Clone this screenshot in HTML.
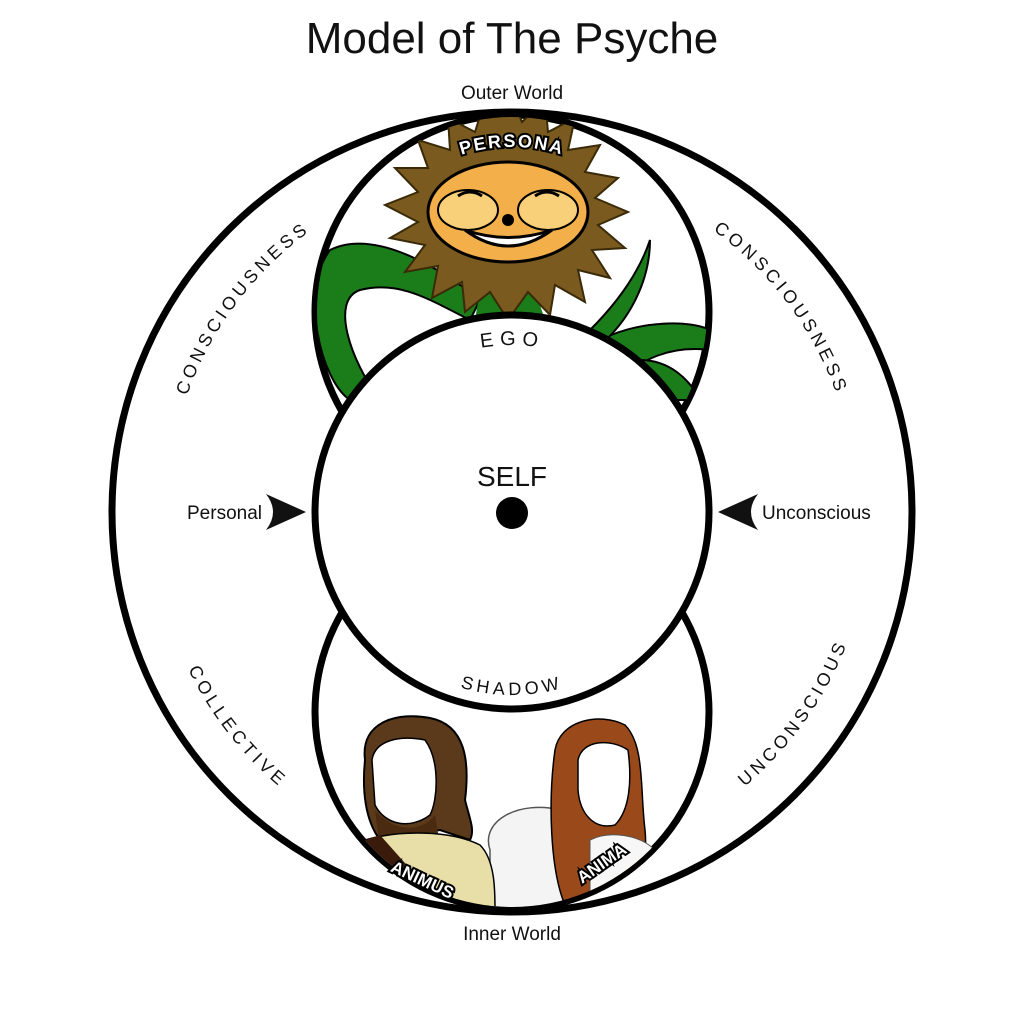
<!DOCTYPE html>
<html><head><meta charset="utf-8"><style>
html,body{margin:0;padding:0;background:#fff;}
svg{display:block;}
</style></head><body>
<svg width="1024" height="1024" viewBox="0 0 1024 1024" xmlns="http://www.w3.org/2000/svg" font-family="Liberation Sans, DejaVu Sans, sans-serif">
<defs>
<clipPath id="ct"><circle cx="512" cy="312" r="195"/></clipPath>
<clipPath id="cb"><circle cx="512" cy="712" r="195"/></clipPath>
<path id="pl" d="M 167.5 530 A 347 347 0 0 1 434.4 174"/>
<path id="pr" d="M 589.6 174 A 347 347 0 0 1 856.5 530"/>
<path id="pbl" d="M 152.2 499.4 A 360 360 0 0 0 437.2 864.1"/>
<path id="pbr" d="M 602.1 860.5 A 360 360 0 0 0 870.9 483.7"/>
<path id="pego" d="M 404.7 384.1 A 167 167 0 0 1 619.3 384.1"/>
<path id="psh" d="M 394.4 652.2 A 183 183 0 0 0 629.6 652.2"/>
<path id="pper" d="M 405.9 185.6 A 165 165 0 0 1 618.1 185.6"/>
</defs>
<rect width="1024" height="1024" fill="#fff"/>
<text x="512" y="53" font-size="44" text-anchor="middle" fill="#111">Model of The Psyche</text>
<text x="512" y="99" font-size="19" text-anchor="middle" fill="#111">Outer World</text>
<text x="512" y="940" font-size="19" text-anchor="middle" fill="#111">Inner World</text>

<circle cx="512" cy="512" r="400" fill="#fff" stroke="#000" stroke-width="7"/>
<circle cx="512" cy="312" r="197" fill="#fff" stroke="#000" stroke-width="7"/>
<circle cx="512" cy="712" r="197" fill="#fff" stroke="#000" stroke-width="7"/>

<!-- persona image -->
<g clip-path="url(#ct)">
<path d="M330 250 C 300 290 320 380 350 400 L 380 400 C 350 360 330 300 360 290 C 400 280 430 300 470 320 L 480 300 C 430 260 370 230 330 250 Z" fill="#1a7d1a" stroke="#000" stroke-width="2"/>
<path d="M600 340 C 640 320 690 320 710 330 L 710 350 C 670 345 640 360 620 380 Z" fill="#1a7d1a" stroke="#000" stroke-width="2"/>
<path d="M590 330 C 620 300 640 270 650 240 C 650 280 630 320 600 345 Z" fill="#1a7d1a" stroke="#000" stroke-width="2"/>
<path d="M640 360 C 670 360 690 380 700 400 L 660 400 Z" fill="#1a7d1a" stroke="#000" stroke-width="2"/>
<path d="M480 290 L 475 320 L 545 320 L 535 290 Z" fill="#1a7d1a"/>
<polygon points="508,90 522,122 545,100 548,132 575,118 568,150 600,145 585,172 618,178 595,198 628,212 598,225 625,248 592,250 610,278 578,270 585,302 555,285 550,315 528,292 508,320 490,292 465,312 462,282 432,298 438,266 405,272 425,245 390,238 418,222 385,205 418,192 395,168 428,168 418,140 450,150 448,118 475,132 485,100" fill="#7a5a1e" stroke="#3a2a08" stroke-width="2"/>
<ellipse cx="508" cy="212" rx="80" ry="50" fill="#f3b04a" stroke="#000" stroke-width="3"/>
<ellipse cx="468" cy="210" rx="30" ry="20" fill="#f8d07a" stroke="#000" stroke-width="2"/>
<ellipse cx="548" cy="210" rx="30" ry="20" fill="#f8d07a" stroke="#000" stroke-width="2"/>
<path d="M458 196 q12 -8 24 0" stroke="#000" stroke-width="3" fill="none"/>
<path d="M535 196 q12 -8 24 0" stroke="#000" stroke-width="3" fill="none"/>
<path d="M465 230 Q 508 262 552 230 Q 508 245 465 230 Z" fill="#fff" stroke="#000" stroke-width="3"/>
<circle cx="508" cy="220" r="6" fill="#000"/>
</g>

<!-- anima/animus image -->
<g clip-path="url(#cb)">
<path d="M490 850 C 480 820 520 800 560 810 C 580 840 570 880 560 910 L 490 910 Z" fill="#f4f4f4" stroke="#555" stroke-width="1.5"/>
<path d="M365 760 C 360 720 400 712 430 718 C 465 725 470 760 465 800 C 470 820 475 830 470 840 L 440 830 L 380 840 C 365 820 362 790 365 760 Z" fill="#5a3a1a" stroke="#000" stroke-width="2"/>
<path d="M372 760 C 375 740 400 735 425 740 C 440 760 438 800 430 815 C 410 830 385 825 375 805 Z" fill="#fff" stroke="#000" stroke-width="1.5"/>
<path d="M375 810 C 390 830 420 835 435 815 L 440 845 L 380 850 Z" fill="#4a2a10"/>
<path d="M365 840 C 400 830 450 830 480 845 C 495 860 495 890 495 910 L 370 910 Z" fill="#e8dfa8" stroke="#000" stroke-width="1.5"/>
<path d="M365 840 L 380 835 L 420 880 L 400 910 L 365 900 Z" fill="#3a1a0a"/>
<path d="M555 750 C 560 720 600 712 625 725 C 645 745 640 790 645 830 C 648 860 640 880 630 900 L 565 905 C 550 870 548 800 555 750 Z" fill="#9a4a1a" stroke="#000" stroke-width="1.5"/>
<path d="M578 760 C 582 740 610 738 628 750 C 632 780 630 810 615 825 C 595 830 580 815 578 790 Z" fill="#fff" stroke="#000" stroke-width="1.5"/>
<path d="M590 840 C 610 830 640 835 655 850 L 660 910 L 590 910 Z" fill="#f7f7f7" stroke="#555" stroke-width="1"/>
</g>

<circle cx="512" cy="512" r="197" fill="#fff" stroke="#000" stroke-width="7"/>

<text font-size="18" letter-spacing="4" fill="#111"><textPath href="#pl" startOffset="50%" text-anchor="middle">CONSCIOUSNESS</textPath></text>
<text font-size="18" letter-spacing="4" fill="#111"><textPath href="#pr" startOffset="50%" text-anchor="middle">CONSCIOUSNESS</textPath></text>
<text font-size="18" letter-spacing="4" fill="#111"><textPath href="#pbl" startOffset="50%" text-anchor="middle">COLLECTIVE</textPath></text>
<text font-size="18" letter-spacing="4" fill="#111"><textPath href="#pbr" startOffset="50%" text-anchor="middle">UNCONSCIOUS</textPath></text>
<text font-size="20" letter-spacing="6" fill="#111"><textPath href="#pego" startOffset="50%" text-anchor="middle">EGO</textPath></text>
<text font-size="18" letter-spacing="4" fill="#111"><textPath href="#psh" startOffset="50%" text-anchor="middle">SHADOW</textPath></text>
<text font-size="18" font-weight="bold" letter-spacing="2" fill="#fff" stroke="#000" stroke-width="4" paint-order="stroke"><textPath href="#pper" startOffset="50%" text-anchor="middle">PERSONA</textPath></text>
<text x="420" y="885" font-size="17" font-weight="bold" fill="#fff" stroke="#000" stroke-width="4" paint-order="stroke" transform="rotate(25 420 885)" text-anchor="middle">ANIMUS</text>
<text x="605" y="868" font-size="17" font-weight="bold" fill="#fff" stroke="#000" stroke-width="4" paint-order="stroke" transform="rotate(-35 605 868)" text-anchor="middle">ANIMA</text>

<text x="512" y="486" font-size="28" text-anchor="middle" fill="#111">SELF</text>
<circle cx="512" cy="513" r="16" fill="#000"/>

<text x="262" y="519" font-size="19" text-anchor="end" fill="#111">Personal</text>
<text x="762" y="519" font-size="19" fill="#111">Unconscious</text>
<path d="M266 494 L 306 512 L 266 530 Q 280 512 266 494 Z" fill="#111"/>
<path d="M758 494 L 718 512 L 758 530 Q 744 512 758 494 Z" fill="#111"/>
</svg>
</body></html>
